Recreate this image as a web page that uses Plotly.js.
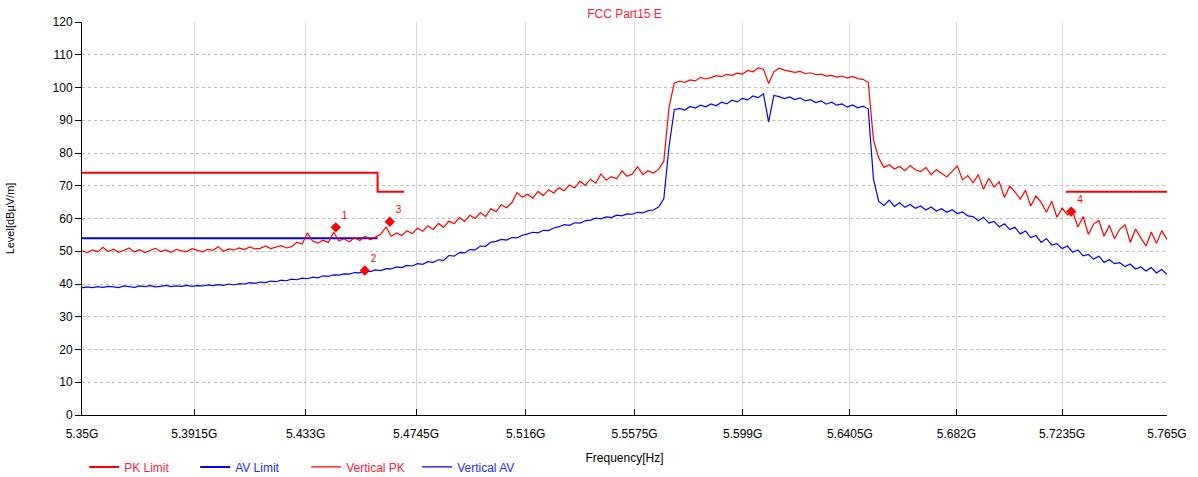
<!DOCTYPE html>
<html>
<head>
<meta charset="utf-8">
<script src="https://cdn.plot.ly/plotly-3.0.1.min.js"></script>
<style>html,body{margin:0;padding:0;background:#fff;}#chart{width:1198px;height:477px;}</style>
</head>
<body>
<div id="chart"></div>
<script>
// Sweep settings (GHz), logarithmic sweep
const sweepStart = 5.35;
const sweepStop = 5.765;
const sweepPoints = 208;

// X-axis tick labels
const tickValues = [5.35, 5.3915, 5.433, 5.4745, 5.516, 5.5575, 5.599, 5.6405, 5.682, 5.7235, 5.765];
const tickLabels = ["5.35G", "5.3915G", "5.433G", "5.4745G", "5.516G", "5.5575G", "5.599G", "5.6405G", "5.682G", "5.7235G", "5.765G"];

// Limit lines
const pkLimitFreq = [5.35, 5.46, 5.46, 5.47, null, 5.725, 5.765];
const pkLimitLevel = [74, 74, 68.2, 68.2, null, 68.2, 68.2];
const avLimitFreq = [5.35, 5.46];
const avLimitLevel = [54, 54];

// Vertical PK trace (dBuV/m)
const verticalPK = [
  50.1, 49.6, 50.4, 49.8, 51.2, 49.9, 50.6, 49.7, 50.3, 51.0,
  49.8, 50.5, 49.6, 50.2, 50.9, 49.9, 50.4, 49.7, 50.6, 50.1,
  49.9, 50.8, 50.2, 49.8, 50.6, 50.3, 51.4, 50.0, 50.7, 50.4,
  51.0, 50.5, 51.3, 50.7, 50.9, 51.6, 50.8, 51.2, 51.7, 51.0,
  51.4, 52.8, 52.2, 55.6, 53.1, 52.5, 53.4, 52.7, 55.8, 53.2,
  53.8, 52.9, 54.1, 53.3, 54.6, 53.5, 54.3, 55.2, 57.4, 54.6,
  55.6, 54.8, 56.3, 55.4, 57.0, 56.1, 57.8, 56.6, 58.5, 57.3,
  59.2, 58.4, 60.3, 59.1, 61.0, 60.0, 61.8, 60.6, 63.0, 62.1,
  64.2, 63.3, 64.8, 67.9, 66.5, 67.4, 66.2, 68.3, 67.0, 68.8,
  67.8, 69.4, 68.5, 70.2, 69.3, 71.4, 70.1, 72.0, 70.8, 73.6,
  71.7, 72.8, 72.1, 74.5, 72.9, 73.6, 75.8, 73.4, 74.6, 73.9,
  75.0, 77.5, 94.0, 101.4, 101.9, 101.6, 102.3, 102.0, 103.1, 102.6,
  103.0, 103.6, 103.3, 104.0, 103.7, 104.4, 104.1, 105.2, 104.8, 106.0,
  105.6, 101.2, 104.8, 105.9, 105.3, 105.0, 104.6, 104.9, 104.2, 104.5,
  103.9, 104.1, 103.5, 103.7, 103.2, 103.5, 102.9, 103.4, 102.7, 102.5,
  101.6, 84.0, 78.5, 75.6, 76.4, 75.1, 75.9, 74.6, 76.2, 74.9,
  74.3, 75.6, 73.4, 74.9, 73.8, 72.7, 74.4, 76.0, 71.8, 73.1,
  70.9, 73.4, 68.9, 72.3, 69.6, 71.2, 66.4, 69.9, 68.1, 65.9,
  68.6, 63.8, 66.9, 64.9, 61.9, 65.3, 60.4, 63.2, 61.1, 62.3,
  57.4, 60.6, 55.2, 58.3, 59.4, 54.6, 57.9, 53.8, 56.7, 58.1,
  52.7, 56.8, 54.1, 51.6, 55.9, 52.4, 56.3, 53.6
];

// Vertical AV trace (dBuV/m)
const verticalAV = [
  38.8, 39.1, 38.9, 39.2, 39.0, 39.3, 39.1, 38.9, 39.4, 39.2,
  39.0, 39.4, 39.2, 39.5, 39.1, 39.3, 39.6, 39.2, 39.4, 39.3,
  39.6, 39.3, 39.5, 39.4, 39.7, 39.5, 39.8, 39.6, 40.0, 39.7,
  40.1, 40.0, 40.4, 40.2, 40.6, 40.4, 40.9, 40.7, 41.2, 41.0,
  41.5, 41.3, 41.8, 41.6, 42.1, 41.9, 42.5, 42.3, 42.8, 42.7,
  43.1, 43.0, 43.5, 43.4, 44.0, 43.8, 44.3, 44.1, 44.7, 44.6,
  45.2, 45.0, 45.7, 45.5, 46.2, 46.0, 46.8, 46.6, 47.4, 47.2,
  48.7, 48.5, 49.6, 49.5, 50.5, 50.4, 51.6, 51.5, 52.8, 53.0,
  53.6, 53.4, 54.2, 54.1, 54.9, 55.3, 55.8, 55.6, 56.4, 56.3,
  57.1, 57.5, 58.1, 57.9, 58.7, 58.6, 59.3, 59.5, 60.1, 59.9,
  60.5, 60.3, 61.0, 60.8, 61.4, 61.3, 61.9, 61.7, 62.4, 62.6,
  63.5, 66.0, 82.0, 93.2, 93.6, 93.1, 94.2, 93.7, 94.6, 94.1,
  95.0, 94.4, 95.5, 95.0, 96.1, 95.6, 96.7, 96.2, 97.4, 96.9,
  98.1, 89.5, 97.6, 97.2, 96.6, 97.1, 96.3, 96.8, 95.9, 96.3,
  95.4, 95.9, 94.9, 95.5, 94.6, 95.0, 94.0, 94.7, 93.8, 94.3,
  93.5, 72.0, 65.2, 64.0, 65.6, 63.7, 64.8, 63.4, 64.3, 63.1,
  63.8, 62.6, 63.5, 62.3, 63.0, 61.9, 62.7, 61.5, 62.0, 60.8,
  60.6, 59.3, 60.4, 58.6, 59.1, 57.4, 58.4, 56.6, 57.3, 55.3,
  56.2, 54.2, 54.8, 52.7, 53.9, 51.9, 52.3, 50.8, 51.6, 49.7,
  50.4, 48.6, 49.0, 47.6, 48.5, 46.6, 47.4, 46.2, 46.5, 45.3,
  46.1, 44.6, 45.2, 44.0, 45.0, 43.4, 44.4, 43.0
];

// Markers
const markerLabels = ["1", "2", "3", "4"];
const markerFreq = [5.4443, 5.4552, 5.4646, 5.7271];
const markerLevel = [57.3, 44.1, 59.0, 62.1];

const freq = [];
for (let i = 0; i < sweepPoints; i++) {
  freq.push(sweepStart * Math.pow(sweepStop / sweepStart, i / (sweepPoints - 1)));
}

const RED = '#ff0000';
const BLUE = '#0000ff';
const FONT = '"Liberation Sans", Arial, sans-serif';

const traces = [
  {x: pkLimitFreq, y: pkLimitLevel, mode: 'lines', name: '<span style="color:#ff1a3c">PK Limit</span>',
   line: {color: RED, width: 2}, connectgaps: false, hoverinfo: 'skip'},
  {x: avLimitFreq, y: avLimitLevel, mode: 'lines', name: '<span style="color:#2a2aff">AV Limit</span>',
   line: {color: BLUE, width: 2}, hoverinfo: 'skip'},
  {x: freq, y: verticalPK, mode: 'lines', name: '<span style="color:#ff1a3c">Vertical PK</span>',
   line: {color: RED, width: 1.2}},
  {x: freq, y: verticalAV, mode: 'lines', name: '<span style="color:#2a2aff">Vertical AV</span>',
   line: {color: BLUE, width: 1.2}},
  {x: markerFreq, y: markerLevel, mode: 'markers+text', text: markerLabels,
   textposition: 'top right', textfont: {color: RED, size: 10, family: FONT},
   marker: {symbol: 'diamond', color: RED, size: 8}, showlegend: false}
];

const layout = {
  width: 1198, height: 477,
  margin: {l: 82, r: 31, t: 22, b: 62, autoexpand: false},
  paper_bgcolor: '#ffffff', plot_bgcolor: '#ffffff',
  font: {family: FONT, size: 12, color: '#000'},
  title: {text: 'FCC Part15 E', font: {color: '#ff1a3c', size: 12, family: FONT},
          x: 0.5213, xanchor: 'center', y: 0.972, yanchor: 'middle'},
  xaxis: {
    type: 'log',
    range: [Math.log10(sweepStart), Math.log10(sweepStop)], tickvals: tickValues, ticktext: tickLabels,
    showline: true, linecolor: '#000', linewidth: 1, ticks: 'inside', ticklen: 6, tickcolor: '#000',
    showgrid: true, gridcolor: '#d9d9d9', gridwidth: 1, zeroline: false,
    tickfont: {size: 12, color: '#000'}, ticklabelstandoff: 8,
    title: {text: 'Frequency[Hz]', font: {size: 12, color: '#000'}, standoff: 13},
    automargin: false, fixedrange: true
  },
  yaxis: {
    range: [0, 120], dtick: 10, tick0: 0,
    showline: true, linecolor: '#000', linewidth: 1, ticks: 'outside', ticklen: 6, tickcolor: '#000',
    showgrid: true, gridcolor: '#bdbdbd', griddash: 'dot', gridwidth: 1, zeroline: false,
    tickfont: {size: 12, color: '#000'},
    title: {text: 'Level[dBμV/m]', font: {size: 11, color: '#000'}, standoff: 35},
    automargin: false, fixedrange: true
  },
  showlegend: true,
  legend: {orientation: 'h', x: 0.002, xanchor: 'left', y: -0.132, yanchor: 'middle',
           font: {size: 12, family: FONT}, entrywidth: 66, entrywidthmode: 'pixels',
           bgcolor: 'rgba(0,0,0,0)', tracegroupgap: 0, itemwidth: 30}
};

Plotly.newPlot('chart', traces, layout, {staticPlot: true, displayModeBar: false});
</script>
</body>
</html>
